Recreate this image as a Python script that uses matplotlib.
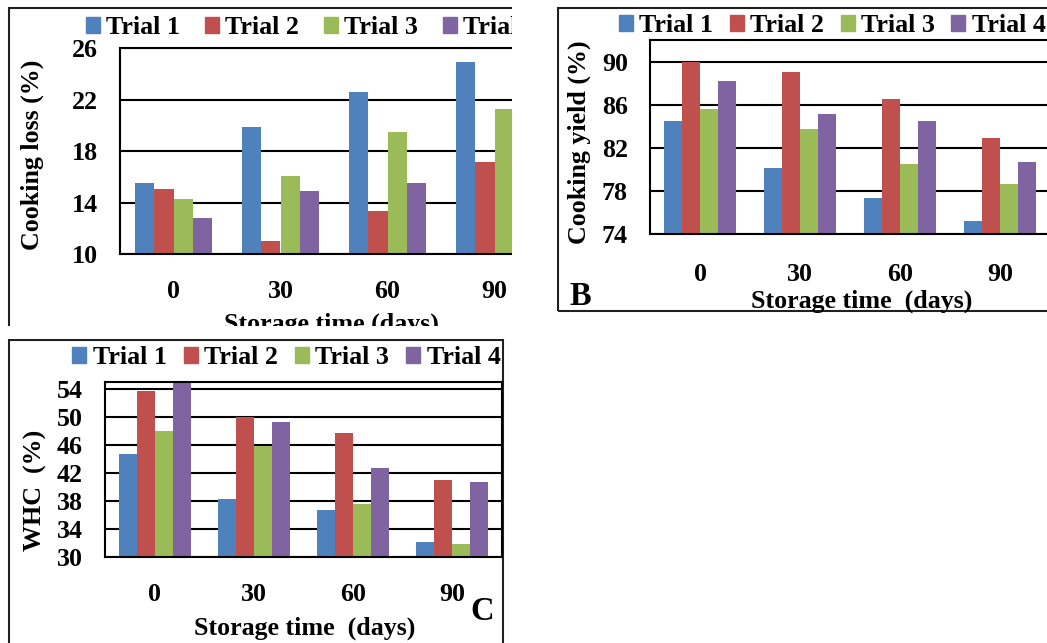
import numpy as np
import matplotlib
matplotlib.use("Agg")
import matplotlib.pyplot as plt
from matplotlib.patches import Rectangle, Patch

plt.rcParams['font.family'] = ['Liberation Serif', 'DejaVu Serif']
plt.rcParams['font.weight'] = 'bold'
plt.rcParams['axes.labelweight'] = 'bold'

days = ['0', '30', '60', '90']
trials = ['Trial 1', 'Trial 2', 'Trial 3', 'Trial 4']
colors = ['#4F81BD', '#C0504D', '#9BBB59', '#8064A2']

# A: cooking loss (%)
loss_t1 = [15.5, 19.9, 22.6, 24.9]
loss_t2 = [15.1, 11.0, 13.4, 17.2]
loss_t3 = [14.3, 16.1, 19.5, 21.3]
loss_t4 = [12.8, 14.9, 15.5, 16.6]

# B: cooking yield (%)
yield_t1 = [84.5, 80.1, 77.4, 75.2]
yield_t2 = [90.0, 89.0, 86.5, 82.9]
yield_t3 = [85.6, 83.8, 80.5, 78.7]
yield_t4 = [88.2, 85.1, 84.5, 80.7]

# C: water holding capacity (%)
whc_t1 = [44.7, 38.4, 36.7, 32.2]
whc_t2 = [53.8, 50.1, 47.8, 41.0]
whc_t3 = [48.1, 45.9, 37.6, 31.9]
whc_t4 = [55.0, 49.3, 42.8, 40.8]

W, H = 1047, 643
FS = 18.7
fig = plt.figure(figsize=(W / 100, H / 100), dpi=100)


def fxy(px, py):
    # pixel -> figure fraction
    return px / W, 1 - py / H


def frame(l, t, r, b, **kw):
    x0, y0 = fxy(l, b)
    fig.add_artist(Rectangle((x0, y0), (r - l) / W, (b - t) / H,
                             transform=fig.transFigure, **kw))


def panel(rect, series, ylim, yticks, ylabel, xlabel, xpad,
          leg_xy, colsp, xlab_xy, ylab_xy, top_spine=True):
    l, t, r, b = rect
    ax = fig.add_axes([l / W, 1 - b / H, (r - l) / W, (b - t) / H])
    x = np.arange(len(days))
    bw = 1 / 5.5
    for i, vals in enumerate(series):
        ax.bar(x + (i - 1.5) * bw, vals, bw, color=colors[i], zorder=2)
    ax.set_xlim(-0.5, len(days) - 0.5)
    ax.set_ylim(*ylim)
    ax.set_yticks(yticks)
    ax.set_xticks(x)
    ax.set_xticklabels(days)
    ax.tick_params(axis='both', length=0, labelsize=FS)
    ax.tick_params(axis='y', pad=16)
    ax.tick_params(axis='x', pad=xpad)
    ax.yaxis.grid(True, color='black', lw=1.5)
    ax.set_axisbelow(True)
    for s in ax.spines.values():
        s.set_linewidth(1.5)
        s.set_color('black')
    ax.spines['top'].set_visible(top_spine)

    ax.set_xlabel(xlabel, fontsize=FS)
    ax.xaxis.set_label_coords((xlab_xy[0] - l) / (r - l), (b - xlab_xy[1]) / (b - t))
    ax.set_ylabel(ylabel, fontsize=FS, va='center')
    ax.yaxis.set_label_coords((ylab_xy[0] - l) / (r - l), (b - ylab_xy[1]) / (b - t))

    handles = [Patch(color=c) for c in colors]
    ax.legend(handles, trials, loc='center left', bbox_to_anchor=fxy(*leg_xy),
              bbox_transform=fig.transFigure, ncol=4, frameon=False,
              fontsize=FS, handlelength=0.54, handleheight=0.54,
              handletextpad=0.24, columnspacing=colsp, borderpad=0,
              borderaxespad=0)
    return ax


# outer chart frames
frame(9, 7.5, 540, 333, fill=False, ec='#202020', lw=1.5, zorder=-1)
frame(558, 7.5, 1060, 310.5, fill=False, ec='#202020', lw=1.5, zorder=-1)
frame(9, 340, 503, 660, fill=False, ec='#202020', lw=1.5, zorder=-1)

# A
panel((120, 48.3, 548, 254.3),
      [loss_t1, loss_t2, loss_t3, loss_t4], (10, 26), [10, 14, 18, 22, 26],
      'Cooking loss (%)', 'Storage time (days)', 18.3,
      (86, 27.5), 0.95, (331.5, 312.5), (32, 155))

# B
panel((650, 40, 1050, 234.3),
      [yield_t1, yield_t2, yield_t3, yield_t4], (74, 92), [74, 78, 82, 86, 90],
      'Cooking yield (%)', 'Storage time  (days)', 20.5,
      (619, 25.5), 0.64, (861.5, 289.5), (579, 142))
fig.text(*fxy(580, 297), 'B', fontsize=23.5, ha='center', va='center')

# C
panel((105, 382.3, 501.7, 557.3),
      [whc_t1, whc_t2, whc_t3, whc_t4], (30, 55), [30, 34, 38, 42, 46, 50, 54],
      'WHC  (%)', 'Storage time  (days)', 18.3,
      (72.3, 357.5), 0.66, (305, 616.5), (35, 490))
fig.text(*fxy(482, 611), 'C', fontsize=23.5, ha='center', va='center')

# panel A is cropped on the right and at the bottom in the source figure
frame(511.5, 0, 556.5, 336, fc='white', ec='none', zorder=20)
frame(0, 325.5, 556.5, 338.5, fc='white', ec='none', zorder=20)

fig.savefig('out.png', dpi=100, facecolor='white')
